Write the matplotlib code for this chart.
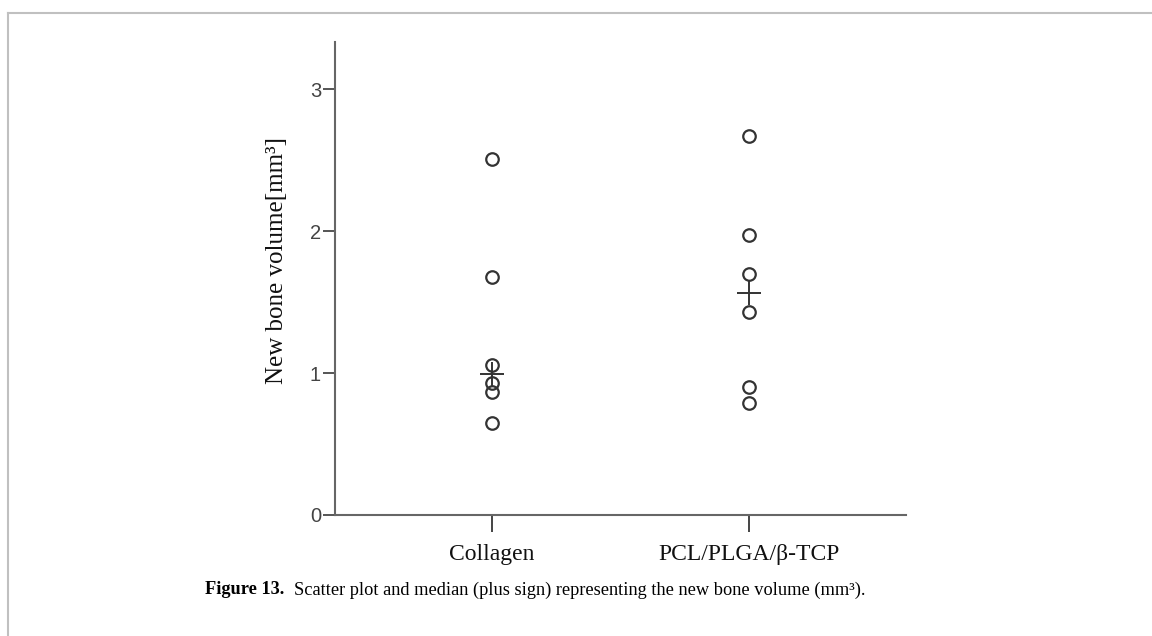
import numpy as np
import matplotlib.pyplot as plt
from matplotlib.lines import Line2D

groups = ["Collagen", "PCL/PLGA/β-TCP"]
collagen = [2.51, 1.68, 1.06, 0.93, 0.87, 0.65]
pcl = [2.67, 1.97, 1.70, 1.43, 0.90, 0.79]
medians = [np.median(collagen), np.median(pcl)]
yticks = [0, 1, 2, 3]

fig = plt.figure(figsize=(11.52, 6.36), dpi=100)
ax = fig.add_axes([0.2908, 0.1903, 0.4957, 0.7441])

dark = "#333333"
for i, vals in enumerate([collagen, pcl]):
    ax.plot([i + 1] * len(vals), vals, "o", ms=9, mfc="none", mec=dark, mew=1.6,
            linestyle="none")
ax.plot([1, 2], medians, "+", ms=17, mew=1.4, color=dark, linestyle="none")

ax.set_xlim(0.389, 2.611)
ax.set_ylim(0, 3.335)
ax.set_xticks([1, 2])
ax.set_xticklabels(groups, family="Liberation Serif", fontsize=17, color="#111111")
ax.set_yticks(yticks)
ax.set_yticklabels([str(t) for t in yticks], family="Liberation Sans", fontsize=14.5,
                   color="#444444")
ax.set_ylabel("New bone volume[mm³]", family="Liberation Serif", fontsize=18,
              color="#111111")
ax.yaxis.set_label_coords(-0.082, 0.537)

for s in ["top", "right"]:
    ax.spines[s].set_visible(False)
for s in ["left", "bottom"]:
    ax.spines[s].set_color("#666666")
    ax.spines[s].set_linewidth(1.5)
ax.tick_params(axis="y", length=9, width=1.4, color="#555555", pad=1)
ax.tick_params(axis="x", length=12, width=1.4, color="#444444", pad=9)

# frame of the figure panel (top and left only)
fig.add_artist(Line2D([8 / 1152, 1], [1 - 13 / 636, 1 - 13 / 636], color="#c0c0c0", lw=1.5))
fig.add_artist(Line2D([8 / 1152, 8 / 1152], [0, 1 - 13 / 636], color="#c0c0c0", lw=1.5))

# caption
cap_y = 1 - 590 / 636
t1 = fig.text(205 / 1152, cap_y, "Figure 13.", family="Liberation Serif",
              fontweight="bold", fontsize=13.2, va="center")
fig.canvas.draw()
bb = t1.get_window_extent()
fig.text((bb.x1 + 10) / 1152, cap_y,
         "Scatter plot and median (plus sign) representing the new bone volume (mm³).",
         family="Liberation Serif", fontsize=13.2, va="center")

fig.savefig("out.png", dpi=100)
